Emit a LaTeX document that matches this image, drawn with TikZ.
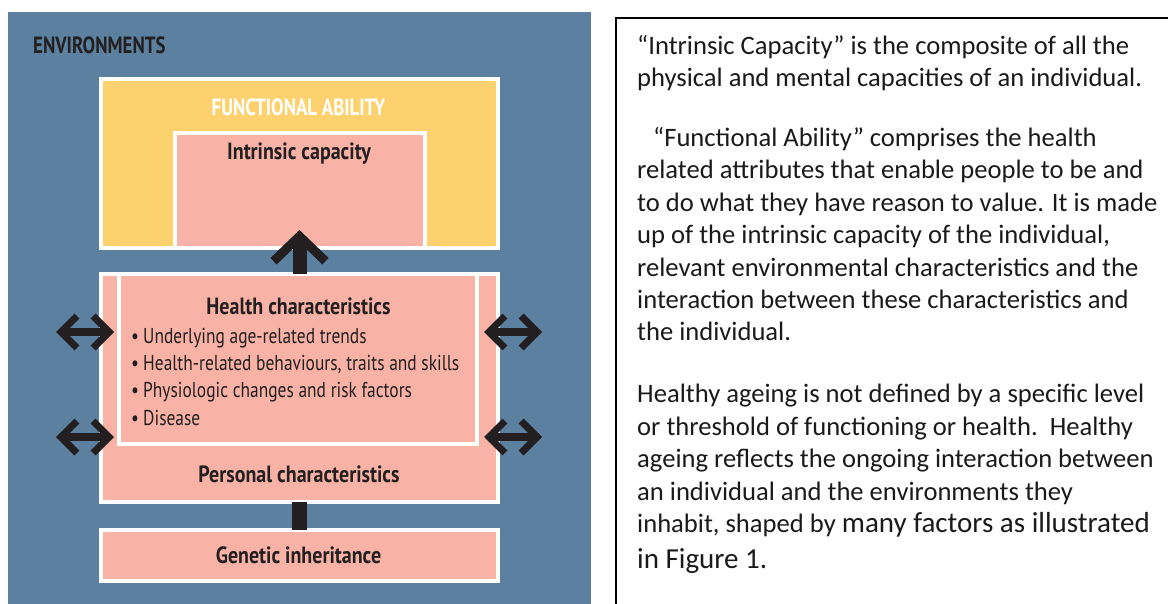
\documentclass[tikz,border=0pt]{standalone}
\usepackage{fontspec}
\setmainfont{Carlito}
\newfontfamily\dfont[FakeStretch=0.81, BoldFeatures={FakeStretch=0.85}]{PT Sans}
\newfontfamily\dcaps[FakeStretch=0.8, BoldFeatures={FakeStretch=0.8}]{PT Sans}
\usetikzlibrary{arrows.meta}
\definecolor{envblue}{HTML}{5B80A0}
\definecolor{funcyellow}{HTML}{FDD26E}
\definecolor{boxpink}{HTML}{F8B2A6}
\definecolor{ink}{HTML}{231F20}
\definecolor{bodyink}{HTML}{1A1A1A}
\begin{document}
\begin{tikzpicture}[x=1pt,y=-1pt,
  box/.style={draw=white, line width=4pt, outer sep=0pt, inner sep=0pt},
  hd/.style={font={\dfont\bfseries\fontsize{23.5pt}{26pt}\selectfont}, text=ink, inner sep=0pt, anchor=base},
  hdcaps/.style={font={\dcaps\bfseries\fontsize{23.5pt}{26pt}\selectfont}, text=ink, inner sep=0pt, anchor=base},
  items/.style={font={\dfont\fontsize{21.5pt}{27.3pt}\selectfont}, text=ink, inner sep=0pt, anchor=base west, align=left},
  para/.style={font={\fontsize{26.6pt}{32.5pt}\selectfont}, text=bodyink, inner sep=0pt, anchor=base west, align=left},
  upar/.style={draw=ink, line width=14pt, -{Straight Barb[length=25pt, width=52pt, line width'=9pt]}},
  dbl/.style={draw=ink, line width=8pt, {Straight Barb[length=16pt, width=32pt, line width'=7pt]}-{Straight Barb[length=16pt, width=32pt, line width'=7pt]}},
  bar/.style={draw=ink, line width=15pt}
]
\useasboundingbox (0,0) rectangle (1168,604);
\fill[white] (0,0) rectangle (1168,604);
% environment background
\node[fill=envblue, inner sep=0pt, outer sep=0pt, minimum width=583.5pt, minimum height=592pt] (env) at (299.25,308) {};
\node[hdcaps, anchor=base west] (envtext) at (33,54) {ENVIRONMENTS};
% functional ability
\node[box, fill=funcyellow, minimum width=397pt, minimum height=168.5pt] (func) at (299.5,163.75) {};
\node[hdcaps, text=white] (functext) at (298.5,116) {FUNCTIONAL ABILITY};
\node[box, fill=boxpink, minimum width=250.5pt, minimum height=115pt] (intr) at (299.75,190.5) {};
\node[hd] (intrtext) at (299,160) {Intrinsic capacity};
% personal characteristics
\node[box, fill=boxpink, minimum width=397pt, minimum height=228pt] (pers) at (299.5,388) {};
\node[box, fill=boxpink, minimum width=358pt, minimum height=170pt] (health) at (298,359) {};
\node[hd] (healthtext) at (298.5,315) {Health characteristics};
\node[items] (list) at (131,425) {\makebox[12pt][l]{•}Underlying age-related trends\\
\makebox[12pt][l]{•}Health-related behaviours, traits and skills\\
\makebox[12pt][l]{•}Physiologic changes and risk factors\\
\makebox[12pt][l]{•}Disease};
\node[hd] (perstext) at (299,482) {Personal characteristics};
% genetic inheritance
\node[box, fill=boxpink, minimum width=397pt, minimum height=51pt] (gen) at (299.5,555.5) {};
\node[hd] (gentext) at (298.5,563) {Genetic inheritance};
% connectors
\draw[bar] (gen.north) -- (pers.south);
\draw[upar] (pers.north) -- ([yshift=44pt]pers.north);
\coordinate (la1) at (56,332);
\coordinate (la2) at (56,437);
\coordinate (ra1) at (542,332);
\coordinate (ra2) at (542,437);
\draw[dbl] (la1) -- ([xshift=13pt]pers.west |- la1);
\draw[dbl] (la2) -- ([xshift=13pt]pers.west |- la2);
\draw[dbl] ([xshift=-14pt]pers.east |- ra1) -- (ra1);
\draw[dbl] ([xshift=-14pt]pers.east |- ra2) -- (ra2);
% text frame
\coordinate (fbl) at (616,604);
\coordinate (ftl) at (616,18);
\coordinate (ftr) at (1168,18);
\draw[black, line width=1.5pt] (fbl) -- (ftl) -- (ftr);
\node[para] (p1) at (637,87) {“Intrinsic Capacity” is the composite of all the\\
physical and mental capacities of an individual.};
\node[para] (p2) at (637,341) {\hspace*{16pt}“Functional Ability” comprises the health\\
related attributes that enable people to be and\\
to do what they have reason to value. It is made\\
up of the intrinsic capacity of the individual,\\
relevant environmental characteristics and the\\
interaction between these characteristics and\\
the individual.};
\node[para] (p3) at (637,568) {Healthy ageing is not defined by a specific level\\
or threshold of functioning or health.\ \ Healthy\\
ageing reflects the ongoing interaction between\\
an individual and the environments they\\
inhabit, shaped by {\fontsize{29pt}{36pt}\selectfont many factors as illustrated}\\[3pt]
{\fontsize{29pt}{36pt}\selectfont in Figure 1.}};
\end{tikzpicture}
\end{document}
